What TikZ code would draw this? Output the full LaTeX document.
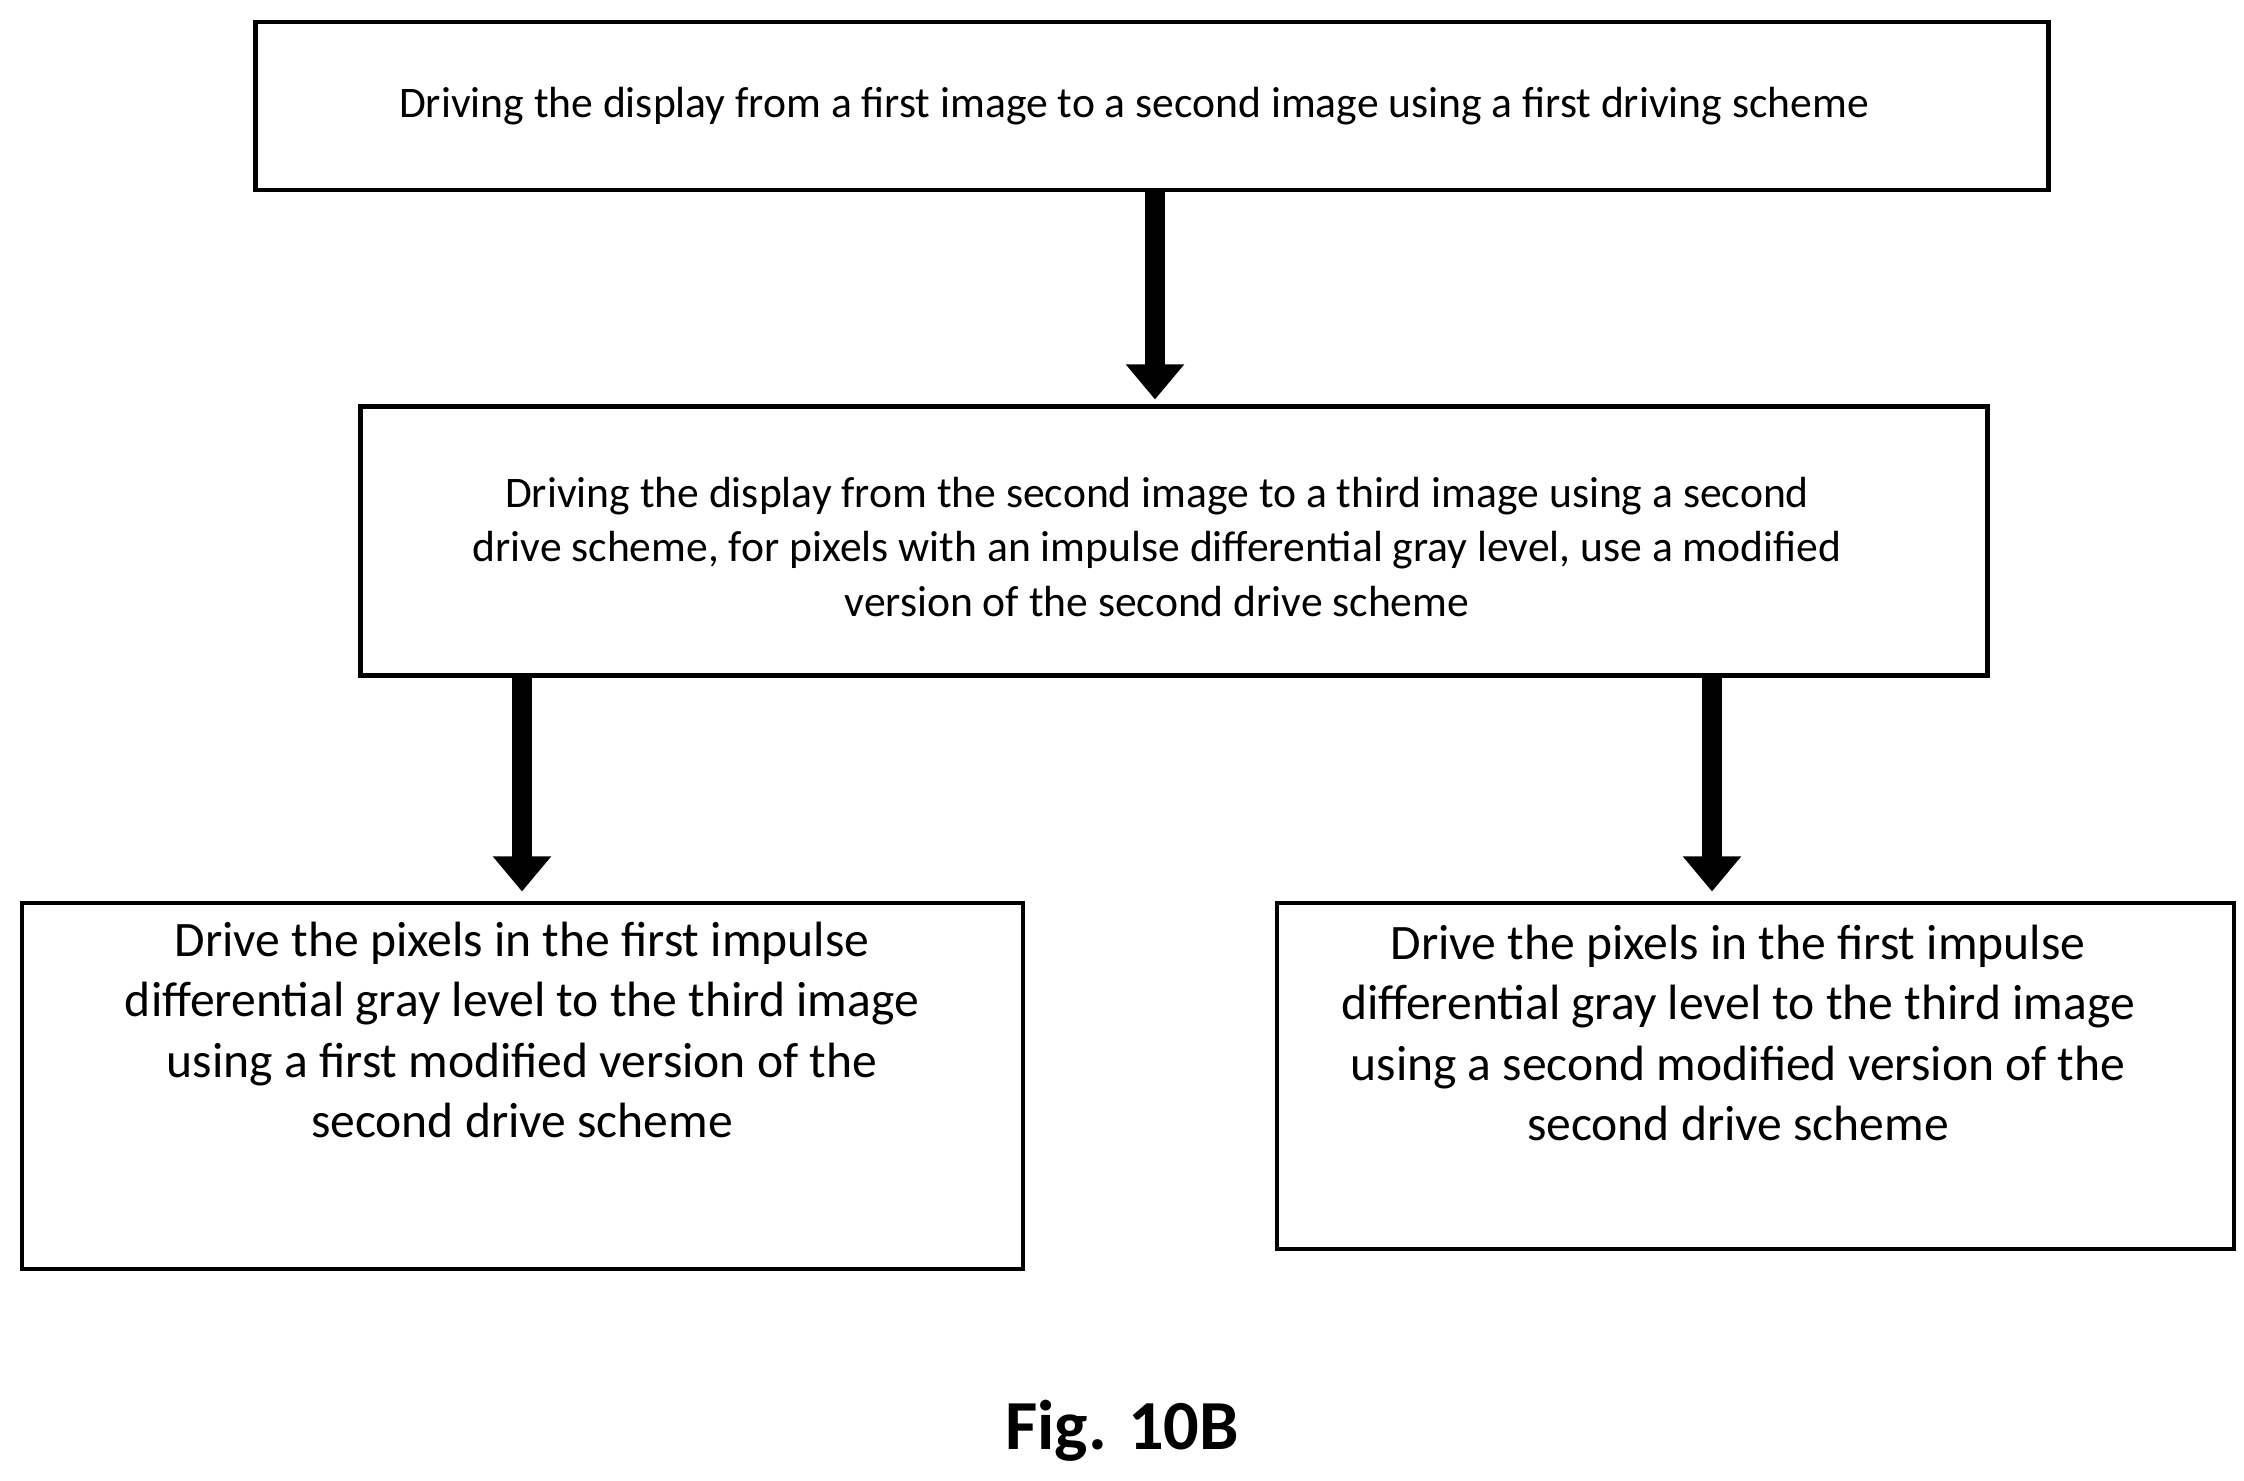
\documentclass[tikz,border=0pt]{standalone}
\usepackage{fontspec}
\setmainfont{Carlito}
\usetikzlibrary{arrows.meta}
\tikzset{
  stepbox/.style={draw, line width=1.2pt, inner sep=0pt},
  steptext/.style={align=center, inner sep=0pt, font=\fontsize{12.4}{15.5}\selectfont},
  subtext/.style={align=center, inner sep=0pt, font=\fontsize{14.1}{17.2}\selectfont},
  flow/.style={line width=5.5pt, draw=black, -{Triangle[width=16pt,length=10pt]}, shorten >=1pt}
}
\begin{document}
\begin{tikzpicture}[x=0.01cm, y=-0.01cm]
  \useasboundingbox (0,0) rectangle (2244,1481);
  % boxes
  \node[stepbox, minimum width=17.92cm, minimum height=1.68cm] (drive1) at (1152,106) {};
  \node[stepbox, minimum width=16.26cm, minimum height=2.69cm] (drive2) at (1174,541) {};
  \node[stepbox, minimum width=10.01cm, minimum height=3.66cm] (mod1) at (522.5,1086) {};
  \node[stepbox, minimum width=9.57cm, minimum height=3.46cm] (mod2) at (1755.5,1076) {};
  % texts
  \node[steptext] (txt0) at (1134,106)
    {Driving the display from a first image to a second image using a first driving scheme};
  \node[steptext] (txtm) at (1157,547)
    {Driving the display from the second image to a third image using a second\\
     drive scheme, for pixels with an impulse differential gray level, use a modified\\
     version of the second drive scheme};
  \node[subtext] (txt1) at (522,1030)
    {Drive the pixels in the first impulse\\ differential gray level to the third image\\
     using a first modified version of the\\ second drive scheme};
  \node[subtext] (txt2) at (1738,1033)
    {Drive the pixels in the first impulse\\ differential gray level to the third image\\
     using a second modified version of the\\ second drive scheme};
  % arrows
  \coordinate (a1) at (1155,403);
  \coordinate (a2) at (522,895);
  \coordinate (a3) at (1712,895);
  \draw[flow] (drive1.south -| a1) -- (a1);
  \draw[flow] (drive2.south -| a2) -- (a2);
  \draw[flow] (drive2.south -| a3) -- (a3);
  % caption
  \node[font=\fontsize{20}{24}\selectfont\bfseries] (cap) at (1122,1431) {Fig. 10B};
\end{tikzpicture}
\end{document}
